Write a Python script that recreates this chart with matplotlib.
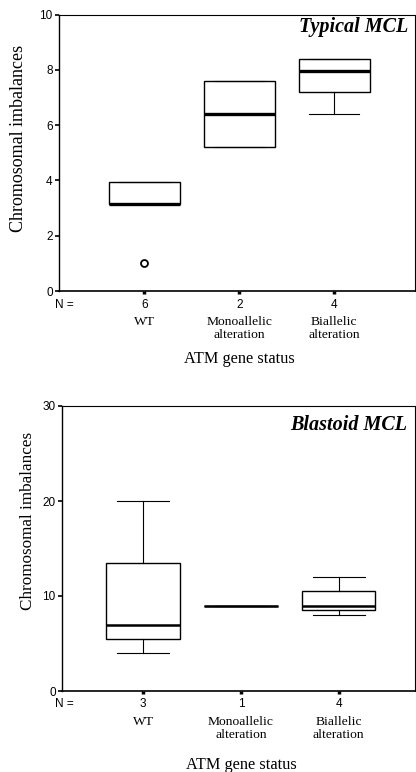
import matplotlib
matplotlib.use("Agg")
import matplotlib.pyplot as plt
from matplotlib.transforms import blended_transform_factory, offset_copy

# categories
groups = ["WT", "Monoallelic\nalteration", "Biallelic\nalteration"]
positions = [1, 2, 3]

# Typical MCL: box summaries
typ_n = [6, 2, 4]
typ_whislo = [3.15, 5.2, 6.4]
typ_q1 = [3.15, 5.2, 7.2]
typ_med = [3.15, 6.4, 7.95]
typ_q3 = [3.93, 7.6, 8.4]
typ_whishi = [3.93, 7.6, 8.4]
typ_fliers = [[1.0], [], []]

# Blastoid MCL
bla_n = [3, 1, 4]
bla_whislo = [4, 9, 8]
bla_q1 = [5.5, 9, 8.5]
bla_med = [7, 9, 9]
bla_q3 = [13.5, 9, 10.5]
bla_whishi = [20, 9, 12]
bla_fliers = [[], [], []]

SERIF = "Liberation Serif"
SANS = "Liberation Sans"


def text_below(ax, x, dy, s, xaxes=False, **kw):
    # x in data (or axes) coords, dy pixels below the bottom spine
    base = ax.transAxes if xaxes else blended_transform_factory(ax.transData, ax.transAxes)
    tr = offset_copy(base, fig=ax.figure, y=-dy, units="dots")
    ax.text(x, 0, s, transform=tr, clip_on=False, **kw)


def panel(ax, title, ns, whislo, q1, med, q3, whishi, fliers, ymax, yticks, medlw, lay):
    stats = []
    for i in range(len(groups)):
        stats.append(dict(whislo=whislo[i], q1=q1[i], med=med[i], q3=q3[i],
                          whishi=whishi[i], fliers=fliers[i]))
    ax.bxp(stats, positions=positions, widths=0.75, capwidths=0.53, patch_artist=True,
           boxprops=dict(facecolor="white", edgecolor="black", linewidth=1.0),
           medianprops=dict(color="black", linewidth=medlw),
           whiskerprops=dict(color="black", linewidth=0.8),
           capprops=dict(color="black", linewidth=0.8),
           flierprops=dict(marker="o", markerfacecolor="none", markeredgecolor="black",
                           markersize=5, markeredgewidth=1.3))
    ax.set_xlim(lay["xlim"])
    ax.set_ylim(0, ymax)
    ax.set_yticks(yticks)
    ax.set_yticklabels([str(t) for t in yticks], fontfamily=SANS, fontsize=8.5)
    ax.tick_params(axis="y", length=3, width=1.2, pad=1.5)
    ax.set_xticks(positions)
    ax.set_xticklabels([])
    ax.tick_params(axis="x", length=2, width=2.5)
    for sp in ax.spines.values():
        sp.set_linewidth(0.8)
    ax.spines["left"].set_linewidth(1.0)
    ax.spines["bottom"].set_linewidth(1.2)

    ax.text(lay["title_xy"][0], lay["title_xy"][1], title, transform=ax.transAxes,
            ha="right", va="center", fontfamily=SERIF, fontweight="bold",
            fontstyle="italic", fontsize=14.5)
    ax.text(lay["ylab_xy"][0], lay["ylab_xy"][1], "Chromosomal imbalances",
            transform=ax.transAxes, rotation=90, ha="center", va="center",
            fontfamily=SERIF, fontsize=lay["ylab_fs"])

    text_below(ax, lay["n_x"], lay["dy_n"], "N =", xaxes=True, ha="left", va="center",
               fontfamily=SANS, fontsize=8.5)
    for p, n, g in zip(positions, ns, groups):
        text_below(ax, p, lay["dy_n"], str(n), ha="center", va="center",
                   fontfamily=SANS, fontsize=8.5)
        text_below(ax, p, lay["dy_g"], g, ha="center", va="top", linespacing=1.1,
                   fontfamily=SERIF, fontsize=9.7)
    text_below(ax, 2, lay["dy_x"], "ATM gene status", ha="center", va="center",
               fontfamily=SERIF, fontsize=11.7)


fig = plt.figure(figsize=(4.16, 7.72), dpi=100)
ax1 = fig.add_axes([59 / 416, 1 - 291 / 772, 356 / 416, 276.5 / 772])
ax2 = fig.add_axes([62 / 416, 1 - 691 / 772, 353 / 416, 285 / 772])

panel(ax1, "Typical MCL", typ_n, typ_whislo, typ_q1, typ_med, typ_q3, typ_whishi,
      typ_fliers, 10, [0, 2, 4, 6, 8, 10], 2.4,
      dict(xlim=(0.1, 3.85), title_xy=(0.98, 0.955), ylab_xy=(-0.115, 0.553), ylab_fs=13,
           n_x=-0.011, dy_n=14, dy_g=25, dy_x=68))
panel(ax2, "Blastoid MCL", bla_n, bla_whislo, bla_q1, bla_med, bla_q3, bla_whishi,
      bla_fliers, 30, [0, 10, 20, 30], 1.8,
      dict(xlim=(0.17, 3.78), title_xy=(0.977, 0.933), ylab_xy=(-0.096, 0.596), ylab_fs=12.3,
           n_x=-0.02, dy_n=13, dy_g=25, dy_x=74))

fig.savefig("out.png", dpi=100, facecolor="white")
